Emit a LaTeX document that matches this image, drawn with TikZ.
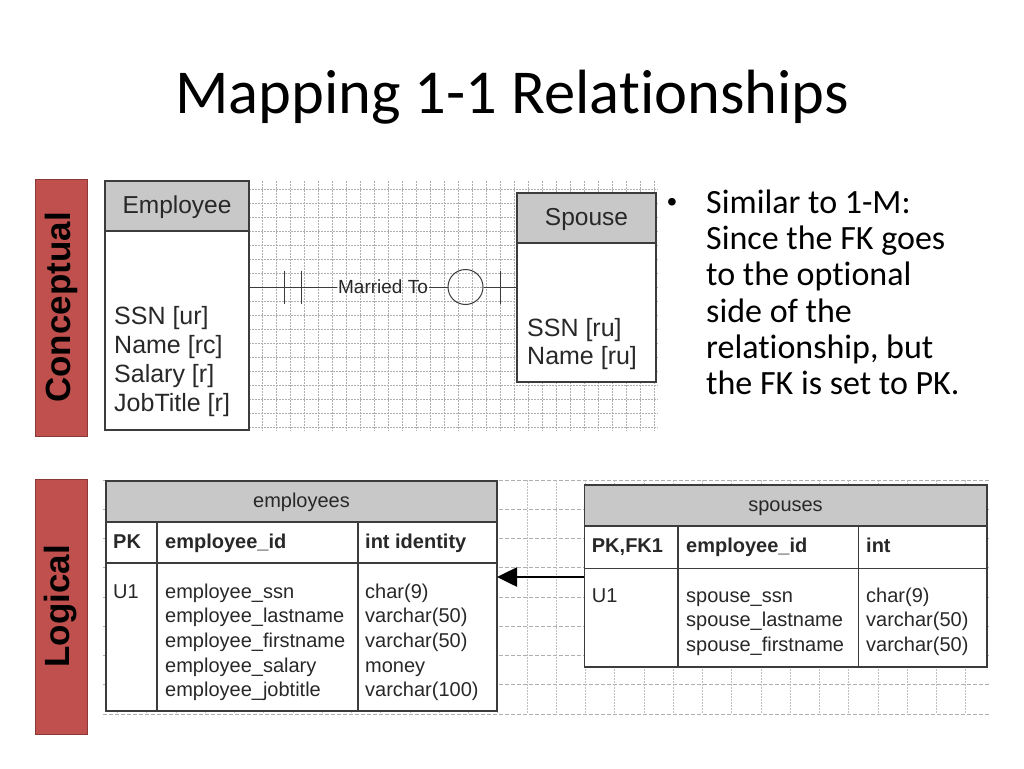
\documentclass[tikz,border=0pt]{standalone}
\usepackage{fontspec}
\setmainfont{Carlito}[Ligatures=NoCommon]
\newfontfamily\arialf{Liberation Sans}
\usetikzlibrary{arrows.meta,calc}
\definecolor{redfill}{RGB}{192,80,77}
\definecolor{redline}{RGB}{140,56,54}
\definecolor{hdr}{RGB}{200,200,200}
\definecolor{bline}{RGB}{60,60,60}
\definecolor{txt}{RGB}{40,40,40}
\definecolor{gridc}{RGB}{175,175,175}
\tikzset{
  sidelabel/.style={rotate=90, fill=redfill, draw=redline, line width=1pt, font=\arialf\bfseries\fontsize{35}{40}\selectfont, text=black, inner sep=0pt},
  boxbg/.style={fill=white, inner sep=0pt, outer sep=0pt, anchor=north west},
  boxline/.style={draw=bline, line width=1.6pt},
  ctext/.style={font=\arialf\fontsize{25}{30}\selectfont, text=txt, inner sep=0pt, anchor=base west},
  chead/.style={font=\arialf\fontsize{24.5}{30}\selectfont, text=txt, inner sep=0pt, anchor=base},
  ltext/.style={font=\arialf\fontsize{20}{24}\selectfont, text=txt, inner sep=0pt, anchor=base west},
  lbold/.style={font=\arialf\bfseries\fontsize{20}{24}\selectfont, text=txt, inner sep=0pt, anchor=base west},
  lhead/.style={font=\arialf\fontsize{20}{24}\selectfont, text=txt, inner sep=0pt, anchor=base},
  conn/.style={draw=bline, line width=1pt},
  cgrid/.style={draw=gridc, line width=0.7pt, dash pattern=on 1.5pt off 1.5pt},
  lgridh/.style={draw=gridc, line width=0.9pt, dash pattern=on 4pt off 2pt},
  lgridv/.style={draw=gridc!80, line width=0.7pt, dash pattern=on 1.5pt off 1.5pt},
  bullettext/.style={font=\fontsize{34}{37}\selectfont, anchor=base west, inner sep=0pt},
  fkarrow/.style={draw=black, line width=2.6pt, -{Triangle[length=20pt,width=19pt]}},
}
\begin{document}
\begin{tikzpicture}[x=1pt,y=-1pt]
\useasboundingbox[fill=white] (0,0) rectangle (1024,768);
\node[anchor=base, font=\fontsize{62.5}{70}\selectfont, inner sep=0pt] (title) at (512,113) {Mapping 1-1 Relationships};

% side labels
\node[sidelabel, minimum width=257pt, minimum height=52pt] (conc) at (61,307.5) {Conceptual};
\node[sidelabel, minimum width=255pt, minimum height=52pt] (logi) at (61,606.5) {Logical};

% conceptual grid
\foreach \i in {0,...,28} \draw[cgrid] ({262+14*\i},181) -- ({262+14*\i},431);
\foreach \j in {0,...,17} \draw[cgrid] (249,{189+14*\j}) -- (658,{189+14*\j});

% Employee entity
\node[boxbg, minimum width=144pt, minimum height=249pt] (emp) at (105,181) {};
\fill[hdr] (emp.north west) rectangle ($(emp.north east)+(0,50)$);
\draw[boxline] (emp.north west) rectangle (emp.south east);
\draw[boxline] ($(emp.north west)+(0,50)$) -- ($(emp.north east)+(0,50)$);
\node[chead] (empt) at (177,213) {Employee};
\node[ctext] (e1) at (114,324) {SSN [ur]};
\node[ctext] (e2) at (114,353) {Name [rc]};
\node[ctext] (e3) at (114,382) {Salary [r]};
\node[ctext] (e4) at (114,411) {JobTitle [r]};

% Spouse entity
\node[boxbg, minimum width=139pt, minimum height=189pt] (sp) at (517,193) {};
\fill[hdr] (sp.north west) rectangle ($(sp.north east)+(0,50)$);
\draw[boxline] (sp.north west) rectangle (sp.south east);
\draw[boxline] ($(sp.north west)+(0,50)$) -- ($(sp.north east)+(0,50)$);
\node[chead] (spt) at (586.5,225) {Spouse};
\node[ctext] (s1) at (527,336) {SSN [ru]};
\node[ctext] (s2) at (527,364) {Name [ru]};

% relationship
\node[font=\arialf\fontsize{19}{22}\selectfont, text=txt, inner sep=1pt] (rel) at (383,287) {Married To};
\node[circle, draw=bline, line width=1pt, minimum size=35pt, inner sep=0pt] (opt) at (465.5,287) {};
\draw[conn] (emp.east |- rel.center) -- (rel.west);
\draw[conn] (rel.east) -- (opt.west);
\draw[conn] (opt.east) -- (sp.west |- opt.center);
\draw[conn] (284.5,270.5) -- (284.5,303.5);
\draw[conn] (301,270.5) -- (301,303.5);
\draw[conn] (500,270.5) -- (500,303.5);

% bullet text
\node[font=\arialf\fontsize{28}{30}\selectfont, anchor=base west, inner sep=0pt] (bul) at (667,211) {•};
\node[bullettext] (b1) at (706,213) {Similar to 1-M:};
\node[bullettext] (b2) at (706,249) {Since the FK goes};
\node[bullettext] (b3) at (706,285.5) {to the optional};
\node[bullettext] (b4) at (706,322) {side of the};
\node[bullettext] (b5) at (706,358) {relationship, but};
\node[bullettext] (b6) at (706,394) {the FK is set to PK.};

% logical grid
\foreach \j in {0,...,8} \draw[lgridh] (103,{480+29.25*\j}) -- (990,{480+29.25*\j});
\foreach \i in {-14,...,15} \draw[lgridv] ({527+29.25*\i},480) -- ({527+29.25*\i},714);

% employees table
\node[boxbg, minimum width=391pt, minimum height=230pt] (emps) at (106,481) {};
\fill[hdr] (emps.north west) rectangle ($(emps.north east)+(0,40.7)$);
\draw[boxline] (emps.north west) rectangle (emps.south east);
\draw[boxline] ($(emps.north west)+(0,40.7)$) -- ($(emps.north east)+(0,40.7)$);
\draw[boxline] ($(emps.north west)+(0,81.7)$) -- ($(emps.north east)+(0,81.7)$);
\draw[boxline] ($(emps.north west)+(50.7,40.7)$) -- ($(emps.south west)+(50.7,0)$);
\draw[boxline] ($(emps.north west)+(252,40.7)$) -- ($(emps.south west)+(252,0)$);
\node[lhead] (empsh) at (301.5,507) {employees};
\node[lbold] (ep1) at (113,548) {PK};
\node[lbold] (ep2) at (165,548) {employee\_id};
\node[lbold] (ep3) at (365,548) {int identity};
\node[ltext] (eu) at (113,598) {U1};
\node[ltext] (en1) at (165,598) {employee\_ssn};
\node[ltext] (en2) at (165,622.7) {employee\_lastname};
\node[ltext] (en3) at (165,647.4) {employee\_firstname};
\node[ltext] (en4) at (165,672) {employee\_salary};
\node[ltext] (en5) at (165,696.8) {employee\_jobtitle};
\node[ltext] (et1) at (365,598) {char(9)};
\node[ltext] (et2) at (365,622.7) {varchar(50)};
\node[ltext] (et3) at (365,647.4) {varchar(50)};
\node[ltext] (et4) at (365,672) {money};
\node[ltext] (et5) at (365,696.8) {varchar(100)};

% spouses table
\node[boxbg, minimum width=402.4pt, minimum height=181.7pt] (sps) at (584.3,485) {};
\fill[hdr] (sps.north west) rectangle ($(sps.north east)+(0,40.7)$);
\draw[boxline] (sps.north west) rectangle (sps.south east);
\draw[boxline] ($(sps.north west)+(0,40.7)$) -- ($(sps.north east)+(0,40.7)$);
\draw[boxline] ($(sps.north west)+(0,83.3)$) -- ($(sps.north east)+(0,83.3)$);
\draw[boxline] ($(sps.north west)+(93.4,40.7)$) -- ($(sps.south west)+(93.4,0)$);
\draw[boxline] ($(sps.north west)+(274,40.7)$) -- ($(sps.south west)+(274,0)$);
\node[lhead] (spsh) at (785.5,511.7) {spouses};
\node[lbold] (sp1) at (591.7,552.7) {PK,FK1};
\node[lbold] (sp2) at (686,552.7) {employee\_id};
\node[lbold] (sp3) at (866,552.7) {int};
\node[ltext] (su) at (591.7,602.7) {U1};
\node[ltext] (sn1) at (686,602.7) {spouse\_ssn};
\node[ltext] (sn2) at (686,626.7) {spouse\_lastname};
\node[ltext] (sn3) at (686,651) {spouse\_firstname};
\node[ltext] (st1) at (866,602.7) {char(9)};
\node[ltext] (st2) at (866,626.7) {varchar(50)};
\node[ltext] (st3) at (866,651) {varchar(50)};

% foreign key arrow
\coordinate (fk) at (584.3,577);
\draw[fkarrow] (fk) -- (emps.east |- fk);
\end{tikzpicture}
\end{document}
